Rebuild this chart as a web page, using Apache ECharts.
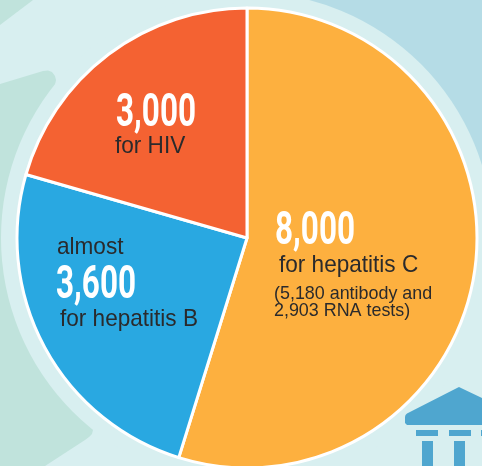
<!DOCTYPE html>
<html>
<head>
<meta charset="UTF-8">
<title>Tests</title>
<script src="https://cdn.jsdelivr.net/npm/echarts@6/dist/echarts.min.js"></script>
<style>
html,body{margin:0;padding:0;background:#d8eff0;}
#main{width:482px;height:466px;}
</style>
</head>
<body>
<div id="main"></div>
<script>
var categories = ['for hepatitis C', 'for hepatitis B', 'for HIV'];
var values = [8000, 3600, 3000];
var colors = ['#fdb03f', '#29a8e1', '#f46232'];
var valueLabels = ['8,000', '3,600', '3,000'];
var prefixB = 'almost';
var noteC = ['(5,180 antibody and', '2,903 RNA tests)'];

var cx = 247, cy = 238;
var bodyFont = '"Liberation Sans", Arial, sans-serif';
var ink = '#2a2a2c';

function bigNumber(text, x, y) {
	return {
		type: 'text', x: x, y: y, scaleX: 0.67, z: 10, silent: true,
		style: { text: text, fill: '#fff', font: 'bold 47px Roboto, sans-serif', textVerticalAlign: 'top' }
	};
}
function bodyText(text, x, y, size, sx) {
	return {
		type: 'text', x: x, y: y, scaleX: sx || 1, z: 10, silent: true,
		style: { text: text, fill: ink, font: size + 'px ' + bodyFont, textVerticalAlign: 'top' }
	};
}
function poly(points, fill, z) {
	return { type: 'polygon', z: z, silent: true, shape: { points: points }, style: { fill: fill } };
}
function box(x, y, w, h, fill) {
	return { type: 'rect', z: 5, silent: true, shape: { x: x, y: y, width: w, height: h }, style: { fill: fill } };
}

var temple = '#4fa6cf';
var green = '#c0e3dc';

var myChart = echarts.init(document.getElementById('main'));
myChart.setOption({
	animation: false,
	backgroundColor: '#d8eff0',
	graphic: [
		// backdrop behind the pie
		box(290, 0, 192, 240, '#b5dce6'),
		poly([[0, 0], [33, 0], [0, 25]], green, 5),
		poly([[0, 84], [43, 71], [48, 70.5], [52, 72], [55, 76], [56, 80], [55, 85], [53, 88], [120, 240],
			[88, 422], [92, 426], [93, 430], [92, 434], [89, 437], [85, 440], [45, 466], [0, 466]], green, 5),
		{ type: 'circle', z: 6, silent: true, shape: { cx: cx, cy: cy, r: 246 }, style: { fill: '#d8eff0' } },
		// building icon
		{ type: 'polygon', z: 20, silent: true,
			shape: { points: [[405, 417], [405.5, 415], [407, 413.5], [457, 388], [459, 387], [461, 388], [482, 398], [482, 425], [407, 425], [405, 423]] },
			style: { fill: temple } },
		box(416, 430, 22, 6, temple), box(449, 430, 22, 6, temple), box(481, 430, 1, 6, temple),
		box(422, 441, 11, 25, temple), box(454, 441, 11, 25, temple),
		// labels
		bigNumber(valueLabels[2], 116, 91),
		bodyText(categories[2], 115, 134, 24, 0.94),
		bodyText(prefixB, 57, 235, 24, 0.94),
		bigNumber(valueLabels[1], 56, 263),
		bodyText(categories[1], 60, 307, 24, 0.94),
		bigNumber(valueLabels[0], 275, 209),
		bodyText(categories[0], 279, 253, 24, 0.94),
		bodyText(noteC[0], 274, 285, 17.9),
		bodyText(noteC[1], 274, 302, 17.9)
	],
	series: [{
		type: 'pie',
		z: 8,
		center: [cx, cy],
		radius: 230,
		startAngle: 90,
		clockwise: true,
		silent: true,
		label: { show: false },
		labelLine: { show: false },
		itemStyle: { borderColor: '#fff', borderWidth: 3 },
		data: categories.map(function (c, i) {
			return { name: c, value: values[i], itemStyle: { color: colors[i] } };
		})
	}]
});
</script>
</body>
</html>
